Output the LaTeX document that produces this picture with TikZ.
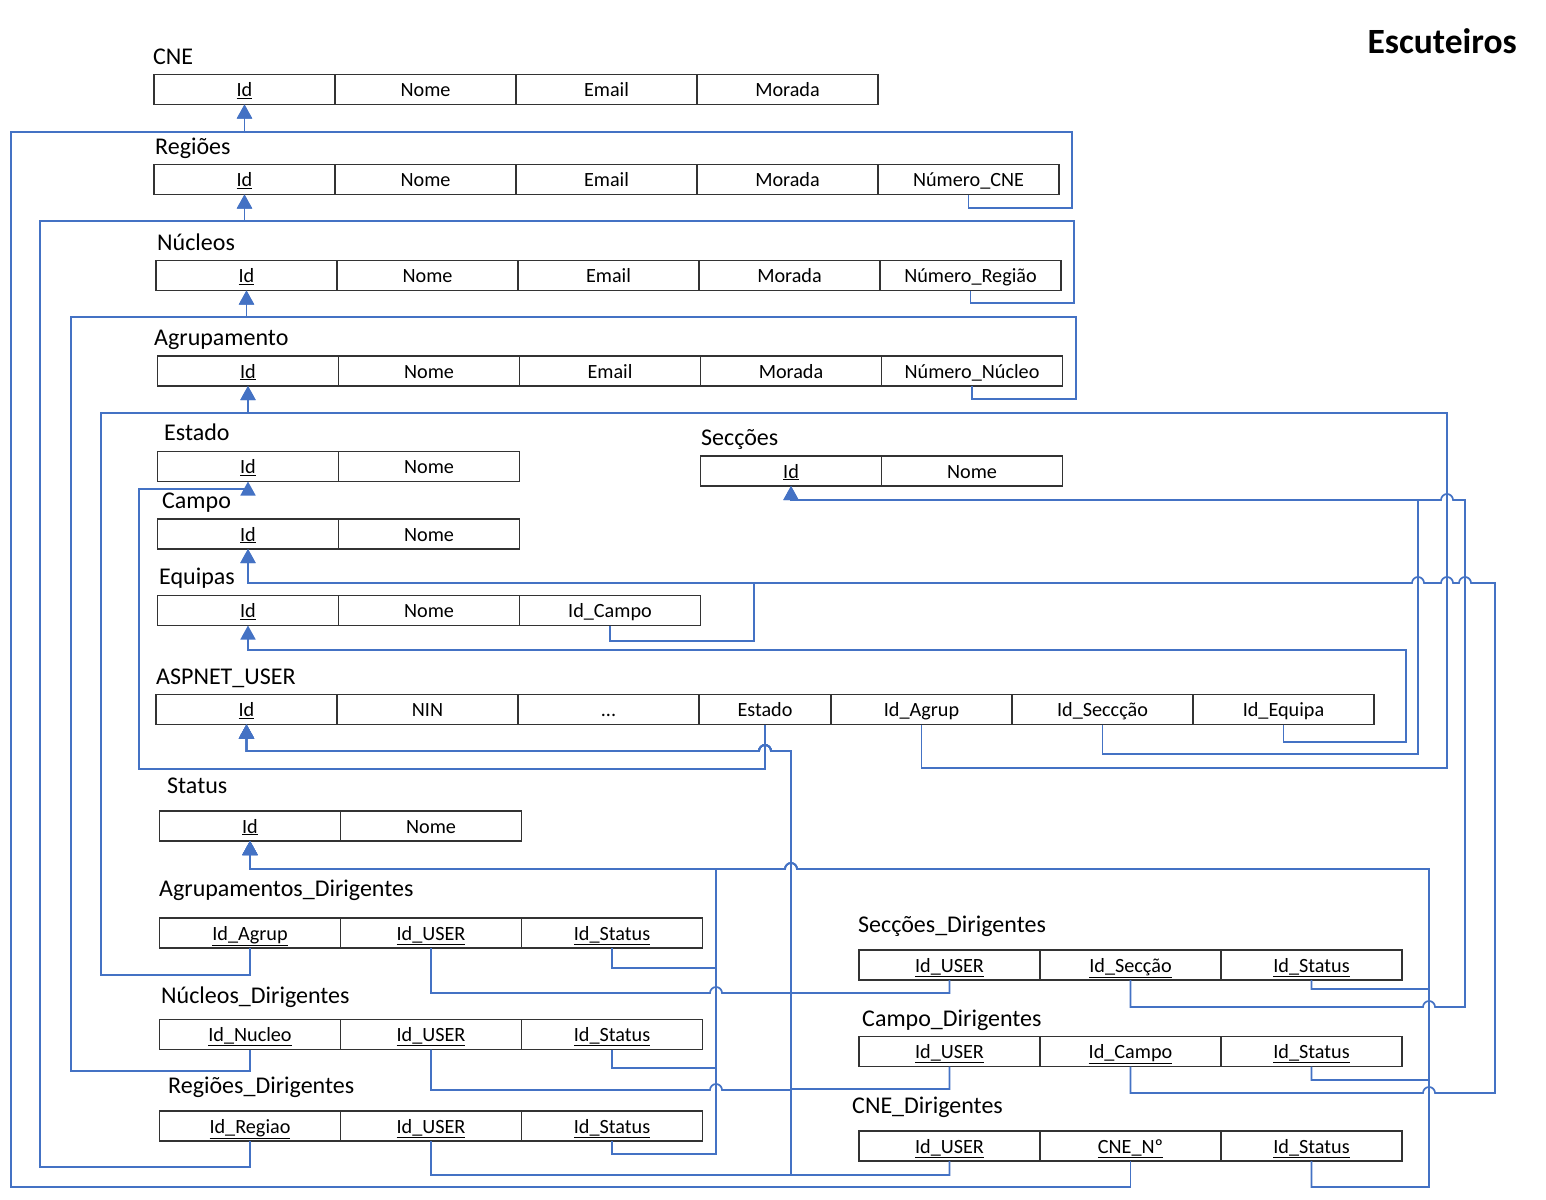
\documentclass[tikz,border=0pt]{standalone}
\usepackage{fontspec}
\setmainfont{Carlito}
\usepackage{tikz}
\usetikzlibrary{arrows.meta,positioning}
\definecolor{fkblue}{HTML}{4472C4}

\begin{document}
\begin{tikzpicture}[x=1pt,y=-1pt,
    cell/.style={draw=black!80,line width=1.2pt,minimum width=181pt,minimum height=30pt,
                 inner sep=0pt,outer sep=0pt,text height=17pt,text depth=3pt,
                 font=\fontsize{20.2}{21}\selectfont},
    tname/.style={anchor=base west,inner sep=0pt,font=\fontsize{24}{25}\selectfont},
    fk/.style={draw=fkblue,line width=1.7pt,-{Triangle[length=14pt,width=15pt]}}]
   \useasboundingbox (0,0) rectangle (1546,1199);
   \node[anchor=base east,inner sep=0pt,font=\fontsize{35.5}{36}\selectfont\bfseries]
        (title) at (1517,54) {Escuteiros};
   % tables
   \node[tname] (tcne) at (153,64) {CNE};
   \node[cell] (cne1) at (244.5,89.5) {\underline{Id}};
   \node[cell,right=0pt of cne1] (cne2) {Nome};
   \node[cell,right=0pt of cne2] (cne3) {Email};
   \node[cell,right=0pt of cne3] (cne4) {Morada};
   \node[tname] (treg) at (155,154) {Regiões};
   \node[cell] (reg1) at (244.5,179.5) {\underline{Id}};
   \node[cell,right=0pt of reg1] (reg2) {Nome};
   \node[cell,right=0pt of reg2] (reg3) {Email};
   \node[cell,right=0pt of reg3] (reg4) {Morada};
   \node[cell,right=0pt of reg4] (reg5) {Número\_CNE};
   \node[tname] (tnuc) at (157,250) {Núcleos};
   \node[cell] (nuc1) at (246.5,275.5) {\underline{Id}};
   \node[cell,right=0pt of nuc1] (nuc2) {Nome};
   \node[cell,right=0pt of nuc2] (nuc3) {Email};
   \node[cell,right=0pt of nuc3] (nuc4) {Morada};
   \node[cell,right=0pt of nuc4] (nuc5) {Número\_Região};
   \node[tname] (tagr) at (154,345) {Agrupamento};
   \node[cell] (agr1) at (248,371) {\underline{Id}};
   \node[cell,right=0pt of agr1] (agr2) {Nome};
   \node[cell,right=0pt of agr2] (agr3) {Email};
   \node[cell,right=0pt of agr3] (agr4) {Morada};
   \node[cell,right=0pt of agr4] (agr5) {Número\_Núcleo};
   \node[tname] (test) at (164,440) {Estado};
   \node[cell] (est1) at (248,466.5) {\underline{Id}};
   \node[cell,right=0pt of est1] (est2) {Nome};
   \node[tname] (tsec) at (701,445) {Secções};
   \node[cell] (sec1) at (791,471) {\underline{Id}};
   \node[cell,right=0pt of sec1] (sec2) {Nome};
   \node[tname] (tcam) at (162,508) {Campo};
   \node[cell] (cam1) at (248,534) {\underline{Id}};
   \node[cell,right=0pt of cam1] (cam2) {Nome};
   \node[tname] (tequ) at (159,584) {Equipas};
   \node[cell] (equ1) at (248,610.5) {\underline{Id}};
   \node[cell,right=0pt of equ1] (equ2) {Nome};
   \node[cell,right=0pt of equ2] (equ3) {Id\_Campo};
   \node[tname] (tusr) at (156,684) {ASPNET\_USER};
   \node[cell] (usr1) at (246.5,709.5) {\underline{Id}};
   \node[cell,right=0pt of usr1] (usr2) {NIN};
   \node[cell,right=0pt of usr2] (usr3) {...};
   \node[cell,right=0pt of usr3,minimum width=132pt] (usr4) {Estado};
   \node[cell,right=0pt of usr4] (usr5) {Id\_Agrup};
   \node[cell,right=0pt of usr5] (usr6) {Id\_Seccção};
   \node[cell,right=0pt of usr6] (usr7) {Id\_Equipa};
   \node[tname] (tsta) at (167,793) {Status};
   \node[cell] (sta1) at (250,826) {\underline{Id}};
   \node[cell,right=0pt of sta1] (sta2) {Nome};
   \node[tname] (tagrd) at (159,896) {Agrupamentos\_Dirigentes};
   \node[cell] (agrd1) at (250,933) {\underline{Id\_Agrup}};
   \node[cell,right=0pt of agrd1] (agrd2) {\underline{Id\_USER}};
   \node[cell,right=0pt of agrd2] (agrd3) {\underline{Id\_Status}};
   \node[tname] (tnucd) at (161,1003) {Núcleos\_Dirigentes};
   \node[cell] (nucd1) at (250,1034.5) {\underline{Id\_Nucleo}};
   \node[cell,right=0pt of nucd1] (nucd2) {\underline{Id\_USER}};
   \node[cell,right=0pt of nucd2] (nucd3) {\underline{Id\_Status}};
   \node[tname] (tregd) at (168,1093) {Regiões\_Dirigentes};
   \node[cell] (regd1) at (250,1126) {\underline{Id\_Regiao}};
   \node[cell,right=0pt of regd1] (regd2) {\underline{Id\_USER}};
   \node[cell,right=0pt of regd2] (regd3) {\underline{Id\_Status}};
   \node[tname] (tsecd) at (858,932) {Secções\_Dirigentes};
   \node[cell] (secd1) at (949.5,965) {\underline{Id\_USER}};
   \node[cell,right=0pt of secd1] (secd2) {\underline{Id\_Secção}};
   \node[cell,right=0pt of secd2] (secd3) {\underline{Id\_Status}};
   \node[tname] (tcamd) at (862,1026) {Campo\_Dirigentes};
   \node[cell] (camd1) at (949.5,1051.5) {\underline{Id\_USER}};
   \node[cell,right=0pt of camd1] (camd2) {\underline{Id\_Campo}};
   \node[cell,right=0pt of camd2] (camd3) {\underline{Id\_Status}};
   \node[tname] (tcned) at (852,1113) {CNE\_Dirigentes};
   \node[cell] (cned1) at (949.5,1146) {\underline{Id\_USER}};
   \node[cell,right=0pt of cned1] (cned2) {\underline{CNE\_Nº}};
   \node[cell,right=0pt of cned2] (cned3) {\underline{Id\_Status}};
   % foreign keys
   \draw[fk] (reg5.south) |- (1072,208) -- (1072,132) -| (cne1.south);
   \draw[fk] (cned2.south) |- (11,1187) -- (11,132) -| (cne1.south);
   \draw[fk] (nuc5.south) |- (1074,303) -- (1074,221) -| (reg1.south);
   \draw[fk] (regd1.south) |- (40,1167) -- (40,221) -| (reg1.south);
   \draw[fk] (agr5.south) |- (1076,399) -- (1076,317) -| (nuc1.south);
   \draw[fk] (nucd1.south) |- (71,1071) -- (71,317) -| (nuc1.south);
   \draw[fk] (agrd1.south) |- (101,975) -- (101,413) -| (agr1.south);
   \draw[fk] (usr5.south) |- (1447,768) -- (1447,413) -| (agr1.south);
   \draw[fk] (usr4.south) |- (139,769) -- (139,489) -| (est1.south);
   \draw[fk] (usr6.south) |- (1418,754) -- (1418,500) -| (sec1.south);
   \draw[fk] (secd2.south) |- (1423,1007) arc[start angle=180,end angle=0,radius=6pt]
        -- (1465,1007) -- (1465,500) -- (1453,500) arc[start angle=0,end angle=180,radius=6pt]
        -| (sec1.south);
   \draw[fk] (equ3.south) |- (754,641) -- (754,583) -| (cam1.south);
   \draw[fk] (camd2.south) |- (1423,1093) arc[start angle=180,end angle=0,radius=6pt]
        -- (1495,1093) -- (1495,583)
        -- (1471,583) arc[start angle=0,end angle=180,radius=6pt]
        -- (1453,583) arc[start angle=0,end angle=180,radius=6pt]
        -- (1424,583) arc[start angle=0,end angle=180,radius=6pt] -| (cam1.south);
   \draw[fk] (usr7.south) |- (1406,742) -- (1406,650) -| (equ1.south);
   \draw[fk] (agrd2.south) |- (710,993) arc[start angle=180,end angle=0,radius=6pt]
        -| (791,751) -- (771,751) arc[start angle=0,end angle=180,radius=6pt] -| (usr1.south);
   \draw[fk] (nucd2.south) |- (710,1090) arc[start angle=180,end angle=0,radius=6pt]
        -| (791,751) -- (771,751) arc[start angle=0,end angle=180,radius=6pt] -| (usr1.south);
   \draw[fk] (regd2.south) |- (791,1175) -- (791,751)
        -- (771,751) arc[start angle=0,end angle=180,radius=6pt] -| (usr1.south);
   \draw[fk] (secd1.south) |- (791,993) -- (791,751)
        -- (771,751) arc[start angle=0,end angle=180,radius=6pt] -| (usr1.south);
   \draw[fk] (camd1.south) |- (791,1089) -- (791,751)
        -- (771,751) arc[start angle=0,end angle=180,radius=6pt] -| (usr1.south);
   \draw[fk] (cned1.south) |- (791,1175) -- (791,751)
        -- (771,751) arc[start angle=0,end angle=180,radius=6pt] -| (usr1.south);
   \draw[fk] (agrd3.south) |- (716,968) -- (716,869) -| (sta1.south);
   \draw[fk] (nucd3.south) |- (716,1068) -- (716,869) -| (sta1.south);
   \draw[fk] (regd3.south) |- (716,1154) -- (716,869) -| (sta1.south);
   \draw[fk] (secd3.south) |- (1429,989) -- (1429,869)
        -- (797,869) arc[start angle=0,end angle=180,radius=6pt] -| (sta1.south);
   \draw[fk] (camd3.south) |- (1429,1080) -- (1429,869)
        -- (797,869) arc[start angle=0,end angle=180,radius=6pt] -| (sta1.south);
   \draw[fk] (cned3.south) |- (1429,1187) -- (1429,869)
        -- (797,869) arc[start angle=0,end angle=180,radius=6pt] -| (sta1.south);
\end{tikzpicture}
\end{document}
